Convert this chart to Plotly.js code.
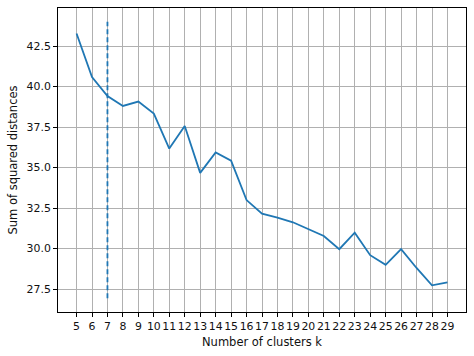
<!DOCTYPE html>
<html>
<head>
<meta charset="utf-8">
<script src="https://cdn.plot.ly/plotly-3.0.1.min.js"></script>
<style>html,body{margin:0;padding:0;background:#fff}#chart{width:474px;height:356px}</style>
</head>
<body>
<div id="chart"></div>
<script>
const clusterK = [5,6,7,8,9,10,11,12,13,14,15,16,17,18,19,20,21,22,23,24,25,26,27,28,29];
const sumSquaredDistances = [43.28,40.59,39.41,38.80,39.07,38.33,36.17,37.56,34.67,35.93,35.42,32.99,32.15,31.91,31.62,31.17,30.77,29.96,30.98,29.59,28.99,29.96,28.80,27.73,27.91];
const elbowK = 7;
const elbowSpan = [26.93, 44.0];
const yTickVals = [27.5,30.0,32.5,35.0,37.5,40.0,42.5];
const yTickText = ['27.5','30.0','32.5','35.0','37.5','40.0','42.5'];

const tickFont = {family: 'DejaVu Sans, sans-serif', size: 10.9, color: '#111'};
const titleFont = {family: 'DejaVu Sans, sans-serif', size: 11.5, color: '#111'};

const traces = [
  {x: clusterK, y: sumSquaredDistances, mode: 'lines', type: 'scatter',
   line: {color: '#1f77b4', width: 1.8}, hoverinfo: 'skip'},
  {x: [elbowK, elbowK], y: elbowSpan, mode: 'lines', type: 'scatter',
   line: {color: '#1f77b4', width: 1.8, dash: '5px,3px'}, hoverinfo: 'skip'}
];

const layout = {
  width: 474, height: 356,
  margin: {l: 58, r: 8, t: 8, b: 44},
  paper_bgcolor: '#fff', plot_bgcolor: '#fff',
  showlegend: false,
  font: tickFont,
  xaxis: {
    range: [3.8, 30.2], tickmode: 'array', tickvals: clusterK, ticktext: clusterK.map(String),
    tickangle: 0, ticks: 'outside', ticklen: 4, tickcolor: '#000', tickwidth: 1,
    showline: true, linecolor: '#000', linewidth: 1, mirror: true,
    showgrid: true, gridcolor: '#b0b0b0', gridwidth: 1, zeroline: false,
    tickfont: tickFont, automargin: false,
    title: {text: 'Number of clusters k', font: titleFont, standoff: 5}
  },
  yaxis: {
    range: [26.08, 44.85], tickmode: 'array', tickvals: yTickVals, ticktext: yTickText,
    ticks: 'outside', ticklen: 4, tickcolor: '#000', tickwidth: 1,
    showline: true, linecolor: '#000', linewidth: 1, mirror: true,
    showgrid: true, gridcolor: '#b0b0b0', gridwidth: 1, zeroline: false,
    tickfont: tickFont, automargin: false,
    title: {text: 'Sum of squared distances', font: titleFont, standoff: 6}
  }
};

Plotly.newPlot('chart', traces, layout, {staticPlot: true, displayModeBar: false});
</script>
</body>
</html>
